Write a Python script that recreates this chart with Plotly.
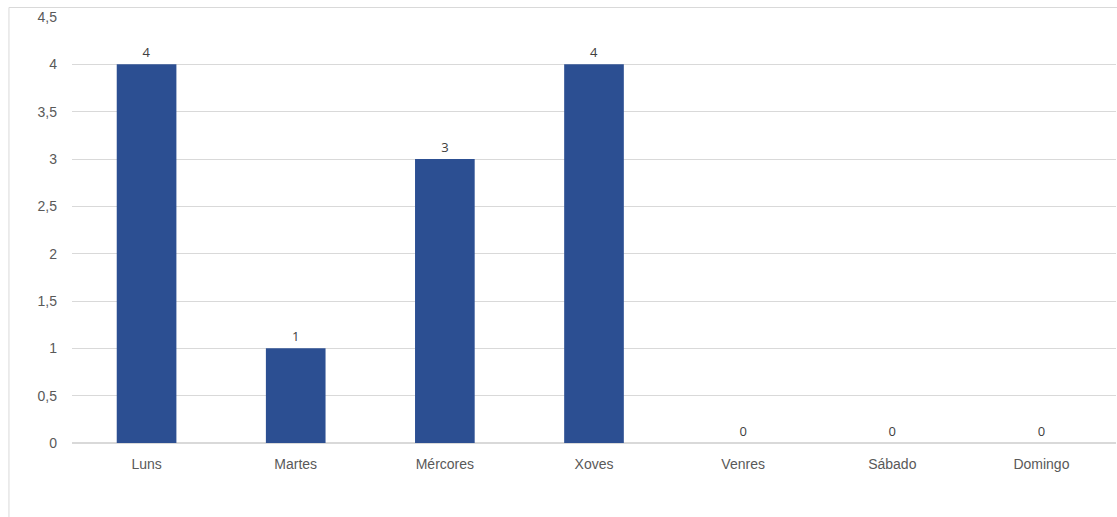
import plotly.graph_objects as go

categories = ["Luns", "Martes", "Mércores", "Xoves", "Venres", "Sábado", "Domingo"]
values = [4, 1, 3, 4, 0, 0, 0]
y_ticks = [0, 0.5, 1, 1.5, 2, 2.5, 3, 3.5, 4, 4.5]
y_tick_labels = ["0", "0,5", "1", "1,5", "2", "2,5", "3", "3,5", "4", "4,5"]

fig = go.Figure()
fig.add_trace(go.Bar(
    x=categories, y=values, width=0.40,
    marker=dict(color="#2C4F92", line=dict(width=0)),
    text=[str(v) for v in values], textposition="outside",
    textfont=dict(family="Open Sans, Liberation Sans, sans-serif", size=13, color="#404040"),
    cliponaxis=False,
))

fig.add_shape(type="rect", xref="paper", yref="paper",
              x0=-0.0604, x1=1.05, y0=-0.25, y1=1.0223,
              line=dict(color="#D9D9D9", width=1), fillcolor="rgba(0,0,0,0)", layer="below")

fig.update_layout(
    width=1117, height=517,
    margin=dict(l=72, r=1, t=17, b=74),
    paper_bgcolor="white", plot_bgcolor="white",
    showlegend=False,
    font=dict(family="Liberation Sans, Arial, sans-serif", size=14, color="#595959"),
    xaxis=dict(showgrid=False, showline=True, linecolor="#D9D9D9", linewidth=1,
               ticks="", ticklabelstandoff=8,
               tickfont=dict(size=14, color="#595959")),
    yaxis=dict(range=[0, 4.5], tickvals=y_ticks, ticktext=y_tick_labels,
               showgrid=True, gridcolor="#D9D9D9", gridwidth=1,
               zeroline=True, zerolinecolor="#D9D9D9", showline=False,
               ticks="", ticklabelstandoff=14,
               tickfont=dict(size=14, color="#595959")),
)

fig.write_html("out.html", config={"displayModeBar": False},
               post_script="document.body.style.margin='0';document.body.style.overflow='hidden';")
